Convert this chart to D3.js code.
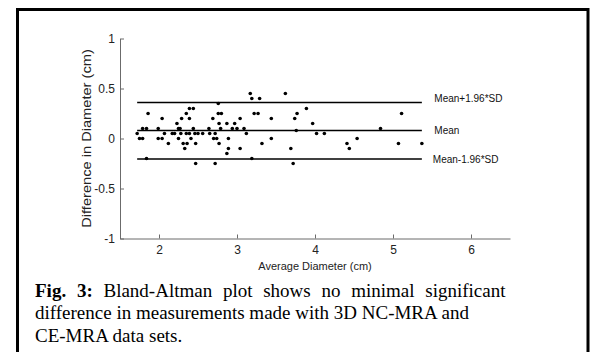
<!DOCTYPE html>
<html>
<head>
<meta charset="utf-8">
<script src="https://cdn.jsdelivr.net/npm/d3@7"></script>
<style>
  html, body { margin: 0; padding: 0; background: #fff; }
  svg { display: block; }
</style>
</head>
<body>
<div id="chart"></div>
<script>
// average of the two measurements (cm)
const avgDiameter = [
  1.72, 1.75, 1.79, 1.79, 1.84, 1.86, 1.84, 1.99, 1.99, 2.04,
  2.04, 2.07, 2.12, 2.17, 2.20, 2.23, 2.25, 2.27, 2.25, 2.28,
  2.29, 2.31, 2.33, 2.35, 2.36, 2.35, 2.39, 2.44, 2.39, 2.39,
  2.41, 2.44, 2.46, 2.47, 2.47, 2.50, 2.56, 2.64, 2.65, 2.69,
  2.70, 2.74, 2.72, 2.72, 2.76, 2.76, 2.80, 2.77, 2.79, 2.77,
  2.87, 2.89, 2.89, 2.87, 2.94, 3.00, 2.97, 3.04, 3.04, 3.09,
  3.12, 3.17, 3.19, 3.19, 3.22, 3.27, 3.29, 3.32, 3.44, 3.44,
  3.62, 3.69, 3.72, 3.74, 3.77, 3.76, 3.89, 3.97, 4.02, 4.12,
  4.41, 4.44, 4.54, 4.84, 5.11, 5.07, 5.37,
];
// difference NC-MRA minus CE-MRA (cm)
const diffDiameter = [
  0.05, 0, 0, 0.1, 0.1, 0.25, -0.2, 0.1, 0, 0,
  0.2, 0.05, -0.05, 0.05, 0.05, 0.15, 0.1, 0.1, 0, 0.05,
  0.2, -0.05, -0.1, 0.05, -0.05, 0.25, 0.3, 0.3, 0.2, 0.05,
  0, 0.1, 0.05, -0.05, -0.25, 0.05, 0.05, 0.1, 0.05, 0.2,
  0, 0, 0.05, -0.25, 0.35, 0.25, 0.25, 0.15, 0.1, -0.05,
  0.15, 0, -0.1, -0.15, 0.1, 0.1, 0.15, 0.2, -0.1, 0.1,
  0.05, 0.45, 0.4, -0.2, 0.25, 0.25, 0.4, -0.05, 0.2, 0,
  0.45, -0.1, -0.25, 0.2, 0.25, 0.08, 0.3, 0.15, 0.05, 0.05,
  -0.05, -0.1, 0, 0.1, 0.25, -0.05, -0.05,
];
const limitNames = ["Mean+1.96*SD", "Mean", "Mean-1.96*SD"];
const limitValues = [0.36, 0.08, -0.205];
const xTicks = [2, 3, 4, 5, 6];
const yTicks = [-1, -0.5, 0, 0.5, 1];
const xLabel = "Average Diameter (cm)";
const yLabel = "Difference in Diameter (cm)";
const captionBold = "Fig. 3:";
const captionLines = [
  " Bland-Altman plot shows no minimal significant",
  "difference in measurements made with 3D NC-MRA and",
  "CE-MRA data sets.",
];

const points = avgDiameter.map((a, i) => ({ a, d: diffDiameter[i] }));
const limits = limitNames.map((name, i) => ({ name, value: limitValues[i] }));

const width = 592;
const height = 352;
const margin = { left: 120, top: 38.5 };
const plotW = 390;
const plotH = 200;

const svg = d3
  .select("#chart")
  .append("svg")
  .attr("width", width)
  .attr("height", height);

// figure frame (open at the bottom)
svg
  .append("path")
  .attr("d", "M17.5," + height + "V9.5H588V" + height)
  .attr("fill", "none")
  .attr("stroke", "#000")
  .attr("stroke-width", 3);

const g = svg
  .append("g")
  .attr("transform", "translate(" + margin.left + "," + margin.top + ")");

const x = d3.scaleLinear().domain([1.5, 6.5]).range([0, plotW]);
const y = d3.scaleLinear().domain([-1, 1]).range([plotH, 0]);

const yAxis = d3
  .axisLeft(y)
  .tickValues(yTicks)
  .tickSize(-4)
  .tickSizeOuter(0)
  .tickPadding(5)
  .tickFormat((d) => String(d));
const xAxis = d3
  .axisBottom(x)
  .tickValues(xTicks)
  .tickSize(-4)
  .tickSizeOuter(0)
  .tickPadding(7)
  .tickFormat((d) => String(d));

g.append("g").attr("class", "y axis").call(yAxis);
g.append("g")
  .attr("class", "x axis")
  .attr("transform", "translate(0," + plotH + ")")
  .call(xAxis);

g.selectAll(".axis path, .axis line").attr("stroke", "#6b6b6b");
g.selectAll(".axis text")
  .attr("fill", "#222")
  .style("font-family", "'Liberation Sans', Arial, sans-serif")
  .style("font-size", "12px");

// axis titles
g.append("text")
  .attr("transform", "translate(" + plotW / 2 + "," + (plotH + 31.5) + ")")
  .attr("text-anchor", "middle")
  .attr("fill", "#222")
  .style("font-family", "'Liberation Sans', Arial, sans-serif")
  .style("font-size", "11px")
  .text(xLabel);

g.append("text")
  .attr("transform", "translate(-29.5," + plotH / 2 + ") rotate(-90) scale(1.22,1)")
  .attr("text-anchor", "middle")
  .attr("fill", "#222")
  .style("font-family", "'Liberation Sans', Arial, sans-serif")
  .style("font-size", "12px")
  .text(yLabel);

// mean and limits of agreement
const [xMin, xMax] = d3.extent(avgDiameter);

g.append("g")
  .attr("class", "limits")
  .selectAll("line")
  .data(limits)
  .join("line")
  .attr("x1", x(xMin))
  .attr("x2", x(xMax))
  .attr("y1", (d) => y(d.value))
  .attr("y2", (d) => y(d.value))
  .attr("stroke", "#000")
  .attr("stroke-width", 1.5);

g.append("g")
  .attr("class", "limit-labels")
  .selectAll("text")
  .data(limits)
  .join("text")
  .attr("x", (d, i) => x(xMax) + (i === 2 ? 11 : 12.5))
  .attr("y", (d, i) => y(d.value) + (i === 0 ? -1 : 3.5))
  .attr("fill", "#111")
  .style("font-family", "'Liberation Sans', Arial, sans-serif")
  .style("font-size", "10px")
  .text((d) => d.name);

// data points
g.append("g")
  .attr("class", "points")
  .selectAll("circle")
  .data(points)
  .join("circle")
  .attr("cx", (d) => x(d.a))
  .attr("cy", (d) => y(d.d))
  .attr("r", 1.8)
  .attr("fill", "#000");

// figure caption (first line is justified in the source)
const caption = svg
  .append("text")
  .attr("fill", "#000")
  .style("font-family", "'Liberation Serif', 'Times New Roman', serif")
  .style("font-size", "19px");

caption
  .selectAll("tspan.line")
  .data(captionLines)
  .join("tspan")
  .attr("class", "line")
  .attr("x", 35)
  .attr("y", (d, i) => 297 + i * 22.3)
  .style("word-spacing", (d, i) => (i === 0 ? "6px" : null))
  .each(function (d, i) {
    const t = d3.select(this);
    if (i === 0) {
      t.append("tspan").style("font-weight", "bold").text(captionBold);
    }
    t.append("tspan").text(d);
  });
</script>
</body>
</html>
